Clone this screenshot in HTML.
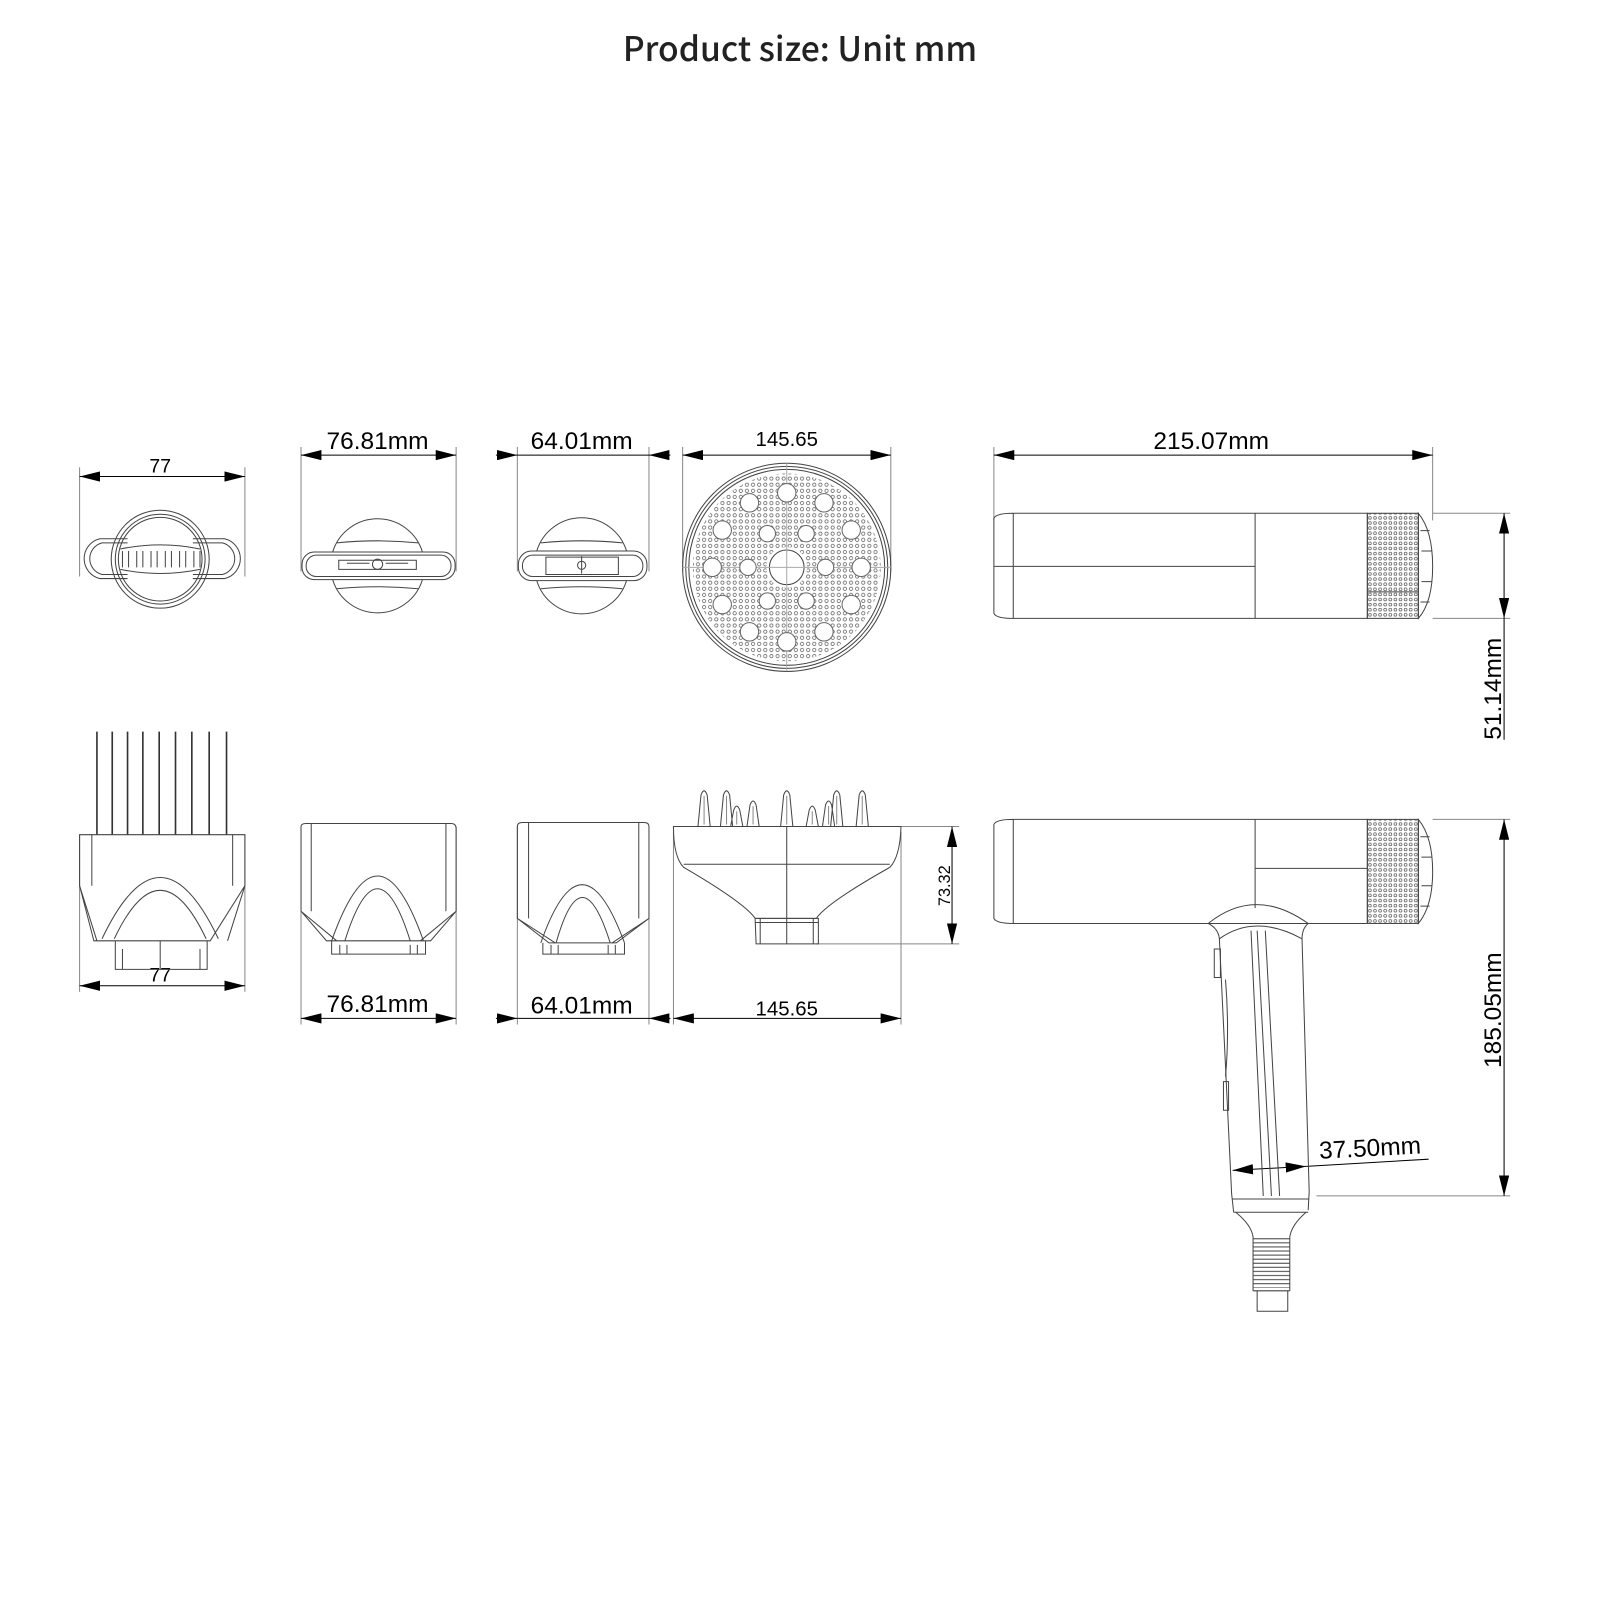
<!DOCTYPE html>
<html><head><meta charset="utf-8"><style>html,body{margin:0;padding:0;background:#fff}svg{display:block}</style></head>
<body>
<svg width="1600" height="1600" viewBox="0 0 1568 1568" xmlns="http://www.w3.org/2000/svg" font-family="Liberation Sans, sans-serif">
<defs>
<marker id="a" viewBox="0 0 20 10" refX="20" refY="5" markerWidth="20" markerHeight="10" markerUnits="userSpaceOnUse" orient="auto-start-reverse"><path d="M0,0 L20,5 L0,10 z" fill="#000"/></marker>
<pattern id="g" width="5" height="5" patternUnits="userSpaceOnUse"><circle cx="2.5" cy="2.5" r="1.4" fill="none" stroke="#555" stroke-width="0.7"/></pattern>
<pattern id="dp" x="771" y="556" width="6" height="6" patternUnits="userSpaceOnUse"><circle cx="3" cy="3" r="1.6" fill="none" stroke="#555" stroke-width="0.7"/></pattern>
<pattern id="rp" width="4" height="4" patternUnits="userSpaceOnUse"><line x1="0" y1="2" x2="4" y2="2" stroke="#444" stroke-width="1"/></pattern>
</defs>
<text x="784" y="60" text-anchor="middle" font-family="Noto Sans CJK SC, Liberation Sans, sans-serif" font-size="33" font-weight="500" fill="#222">Product size: Unit mm</text>

<g fill="none" stroke="#888" stroke-width="1">
<path d="M78,458V565 M240,458V565 M295,438V560 M447,438V560 M507,438V560 M636,438V560 M669,438V560 M873,438V560 M974,438V510 M1404,438V510 M1404,503H1480 M1404,606H1480"/>
<path d="M78,818V972 M240,818V972 M295,810V1004 M447,810V1004 M507,810V1004 M636,810V1004 M660,815V1004 M883,815V1004 M883,810H940 M800,925H940 M1290,1172H1480 M1404,803H1480"/>
</g>

<g stroke="#000" stroke-width="1" fill="none">
<line x1="78" y1="467" x2="240" y2="467" marker-start="url(#a)" marker-end="url(#a)"/>
<line x1="295" y1="446" x2="447" y2="446" marker-start="url(#a)" marker-end="url(#a)"/>
<line x1="486" y1="446" x2="507" y2="446" marker-end="url(#a)"/><line x1="507" y1="446" x2="636" y2="446"/><line x1="657" y1="446" x2="636" y2="446" marker-end="url(#a)"/>
<line x1="669" y1="446" x2="873" y2="446" marker-start="url(#a)" marker-end="url(#a)"/>
<line x1="974" y1="446" x2="1404" y2="446" marker-start="url(#a)" marker-end="url(#a)"/>
<line x1="1474" y1="503" x2="1474" y2="606" marker-start="url(#a)" marker-end="url(#a)"/><line x1="1474" y1="606" x2="1474" y2="725"/>
<line x1="78" y1="966" x2="240" y2="966" marker-start="url(#a)" marker-end="url(#a)"/>
<line x1="295" y1="998" x2="447" y2="998" marker-start="url(#a)" marker-end="url(#a)"/>
<line x1="486" y1="998" x2="507" y2="998" marker-end="url(#a)"/><line x1="507" y1="998" x2="636" y2="998"/><line x1="657" y1="998" x2="636" y2="998" marker-end="url(#a)"/>
<line x1="660" y1="998" x2="883" y2="998" marker-start="url(#a)" marker-end="url(#a)"/>
<line x1="933" y1="810" x2="933" y2="925" marker-start="url(#a)" marker-end="url(#a)"/>
<line x1="1474" y1="803" x2="1474" y2="1172" marker-start="url(#a)" marker-end="url(#a)"/>
<line x1="1208" y1="1147" x2="1280" y2="1143" marker-start="url(#a)" marker-end="url(#a)"/><line x1="1280" y1="1143" x2="1400" y2="1136"/>
</g>

<g fill="#000" font-size="24">
<text x="157" y="463" text-anchor="middle" font-size="19">77</text>
<text x="370" y="440" text-anchor="middle">76.81mm</text>
<text x="570" y="440" text-anchor="middle">64.01mm</text>
<text x="771" y="437" text-anchor="middle" font-size="20">145.65</text>
<text x="1187" y="440" text-anchor="middle">215.07mm</text>
<text transform="translate(1471,675) rotate(-90)" text-anchor="middle">51.14mm</text>
<text x="157" y="962" text-anchor="middle" font-size="19">77</text>
<text x="370" y="992" text-anchor="middle">76.81mm</text>
<text x="570" y="993" text-anchor="middle">64.01mm</text>
<text x="771" y="995" text-anchor="middle" font-size="20">145.65</text>
<text transform="translate(931,868) rotate(-90)" text-anchor="middle" font-size="16">73.32</text>
<text transform="translate(1471,990) rotate(-90)" text-anchor="middle">185.05mm</text>
<text transform="translate(1343,1133) rotate(-3)" text-anchor="middle">37.50mm</text>
</g>

<g fill="none" stroke="#444" stroke-width="1">
<path d="M125,528 H98 A20,20 0 0 0 98,567 H125 M189,528 H220 A20,20 0 0 1 220,567 H189"/>
<path d="M125,532 H100 A16,16 0 0 0 100,563 H125 M189,532 H218 A16,16 0 0 1 218,563 H189"/>
<circle cx="157" cy="548" r="48"/><circle cx="157" cy="548" r="44"/><circle cx="157" cy="548" r="41"/>
<path d="M118,538 Q157,530 196,538 M118,558 Q157,566 196,558"/>
<path d="M120,540V556 M126,540V556 M134,540V556 M140,540V556 M148,540V556 M154,540V556 M162,540V556 M168,540V556 M176,540V556 M182,540V556 M190,540V556 M196,540V556"/>
<path d="M326,541 A46,46 0 0 1 414,541 M326,568 A46,46 0 0 0 414,568 M330,532 Q370,528 410,532 M330,577 Q370,573 410,577" />
<rect x="296" y="541" width="150" height="27" rx="12"/><rect x="300" y="544" width="142" height="21" rx="10"/>
<path d="M332,549H408V558H332Z M340,552H362 M378,552H400"/><circle cx="370" cy="553" r="5"/>
<path d="M526,540 A46,46 0 0 1 614,540 M526,569 A46,46 0 0 0 614,569 M530,532 Q570,528 610,532 M530,577 Q570,573 610,577"/>
<rect x="508" y="540" width="126" height="29" rx="13"/><rect x="512" y="544" width="118" height="21" rx="10"/>
<path d="M535,546H606V563H535Z M570,545V562"/><circle cx="570" cy="554" r="4"/>
<circle cx="771" cy="556" r="92" fill="url(#dp)" stroke="none"/>
<circle cx="771" cy="556" r="20" fill="#fff" stroke="none"/>
<circle cx="771" cy="556" r="102"/><circle cx="771" cy="556" r="99"/><circle cx="771" cy="556" r="96"/><circle cx="771" cy="556" r="17"/>
<path d="M771,454V658 M669,556H873" stroke="#aaa"/>
<g fill="#fff" stroke="#666">
<circle cx="809" cy="556" r="8"/><circle cx="790" cy="589" r="8"/><circle cx="752" cy="589" r="8"/><circle cx="733" cy="556" r="8"/><circle cx="752" cy="523" r="8"/><circle cx="790" cy="523" r="8"/>
<circle cx="844" cy="556" r="9"/><circle cx="834.2" cy="592.5" r="9"/><circle cx="807.5" cy="619.2" r="9"/><circle cx="771" cy="629" r="9"/><circle cx="734.5" cy="619.2" r="9"/><circle cx="707.8" cy="592.5" r="9"/><circle cx="698" cy="556" r="9"/><circle cx="707.8" cy="519.5" r="9"/><circle cx="734.5" cy="492.8" r="9"/><circle cx="771" cy="483" r="9"/><circle cx="807.5" cy="492.8" r="9"/><circle cx="834.2" cy="519.5" r="9"/>
</g>
<path d="M993,503 H1340 V606 H993 M993,503 Q976,503 974,508 V601 Q976,606 993,606 Z M993,503V606 M1230,503V606 M974,555H1230 M1340,580H1390"/>
<rect x="1340" y="503" width="50" height="103" fill="url(#g)"/>
<path d="M1390,503 Q1404,520 1404,555 Q1404,590 1390,606 Z M1392,520h9 M1393,540h10 M1393,570h10 M1392,590h9"/>
<path d="M95,818V717 M110,818V717 M125,818V717 M140,818V717 M156,818V717 M172,818V717 M188,818V717 M205,818V717 M222,818V717" stroke="#333" stroke-width="1.6"/>
<path d="M78,818H240V868 L206,922 H92 L78,868Z M78,868 L95,922 M240,868 L223,922 M90,818V868 M228,818V868"/>
<path d="M100,920 Q157,800 214,920 M112,920 Q157,825 202,920"/>
<path d="M113,922V950H203V922 M157,922V950 M120,930V950 M196,930V950"/>
<path d="M295,810 Q295,807 300,807 H442 Q447,807 447,812 V893 L422,922 H320 L295,893Z M305,807V893 M437,807V893 M295,893 L330,922 M447,893 L412,922"/>
<path d="M325,922 Q370,795 415,922 M338,922 Q370,820 402,922"/>
<path d="M325,922V935H417V922 M333,926V935 M340,926V935 M402,926V935 M409,926V935"/>
<path d="M507,810 Q507,806 512,806 H631 Q636,806 636,810 V900 L604,924 H538 L507,900Z M518,806V900 M626,806V900 M507,900 L544,924 M636,900 L600,924"/>
<path d="M530,924 Q570,810 612,924 M545,924 Q570,835 598,924"/>
<path d="M532,924V935H612V924 M540,926V935 M547,926V935 M596,926V935 M603,926V935"/>
<path d="M660,810H883 Q882,840 872,850 Q810,885 800,900 H740 Q730,885 670,850 Q660,840 660,810Z M670,847H872 M771,810V900"/>
<path d="M740,900H802V925H741Z M745,900V925 M797,900V925 M771,900V925 M740,904H802"/>
<path d="M684,810 L687,779 Q690,771 693,779 L696,810 M706,810 L709,779 Q712,771 715,779 L718,810 M716,810 L719,794 Q722,786 725,794 L728,810 M732,810 L735,789 Q738,781 741,789 L744,810 M765,810 L768,779 Q771,771 774,779 L777,810 M790,810 L793,794 Q796,786 799,794 L802,810 M806,810 L809,789 Q812,781 815,789 L818,810 M814,810 L817,779 Q820,771 823,779 L826,810 M839,810 L842,779 Q845,771 848,779 L851,810"/>
<path d="M690,808V780 M712,808V780 M722,808V795 M738,808V790 M771,808V780 M796,808V795 M812,808V790 M820,808V780 M845,808V780" stroke="#888"/>
<path d="M993,803 H1340 V905 H993 M993,803 Q976,803 974,808 V900 Q976,905 993,905 Z M993,803V905 M1230,803V890 M1230,851H1340"/>
<rect x="1340" y="803" width="50" height="102" fill="url(#g)"/>
<path d="M1390,803 Q1404,820 1404,854 Q1404,888 1390,905 Z M1392,820h9 M1393,840h10 M1393,868h10 M1392,888h9"/>
<path d="M1184,905 Q1230,868 1282,905 M1195,920 Q1230,895 1276,920 M1184,905 Q1194,910 1195,920 M1282,905 Q1276,910 1276,920"/>
<path d="M1195,920 L1207,1170 L1209,1188 M1276,920 L1283,1168 L1282,1186 M1209,1188 H1282 M1208,1175H1283 M1226,912 L1238,1172 M1232,912 L1246,1172 M1240,912 L1254,1172"/>
<path d="M1190,930 h6 v28 h-6z M1199,1060 h5 v28 h-5z M1201,960 Q1205,1010 1201,1055"/>
<path d="M1211,1188 Q1226,1200 1228,1212 M1280,1188 Q1266,1200 1264,1212 M1228,1212V1265 M1264,1212V1265 M1232,1265V1285 H1262 V1265 M1228,1265H1264"/>
<rect x="1228" y="1212" width="36" height="50" fill="url(#rp)" stroke="none"/>
</g>
</svg>
</body></html>
